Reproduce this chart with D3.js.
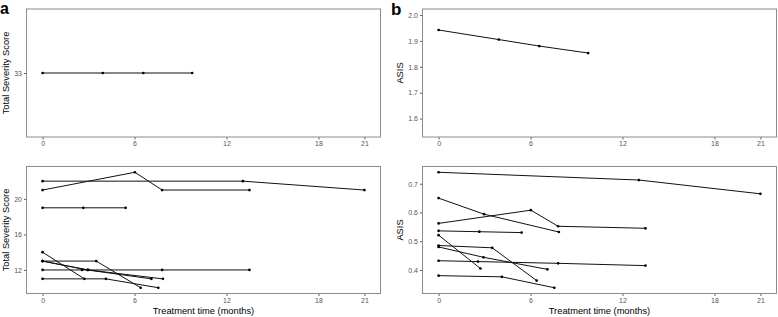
<!DOCTYPE html>
<html>
<head>
<meta charset="utf-8">
<script src="https://cdn.jsdelivr.net/npm/d3@7"></script>
<style>
  body { margin: 0; background: #fff; }
  svg { display: block; font-family: 'Liberation Sans', Arial, sans-serif; }
</style>
</head>
<body>
<div id="chart"></div>
<script>
// patient shown alone in the upper panels
const monthsTop = [0, 3.93, 6.57, 9.76]
const severityTop = [33, 33, 33, 33]
const asisTop = [1.942, 1.905, 1.880, 1.853]

// remaining patients (lower panels)
const months = [
  [0, 13.07, 21],
  [0, 6.02, 7.8, 13.5],
  [0, 2.66, 5.42],
  [0, 2.73],
  [0, 3.5, 6.4],
  [0, 2.93, 7.1],
  [0, 2.57, 7.8, 13.5],
  [0, 4.13, 7.55],
  [0, 2.97, 7.85]
]
const severity = [
  [22, 22, 21],
  [21, 23, 21, 21],
  [19, 19, 19],
  [14, 11],
  [13, 13, 10],
  [13, 12, 11],
  [12, 12, 12, 12],
  [11, 11, 10],
  [13, 12, 11]
]
const asis = [
  [0.740, 0.713, 0.665],
  [0.562, 0.608, 0.552, 0.545],
  [0.536, 0.533, 0.530],
  [0.521, 0.405],
  [0.485, 0.477, 0.363],
  [0.480, 0.444, 0.402],
  [0.432, 0.429, 0.423, 0.415],
  [0.380, 0.376, 0.338],
  [0.650, 0.594, 0.532]
]

const monthTicks = [0, 6, 12, 18, 21]
const severityTopTicks = [33]
const severityTicks = [12, 16, 20]
const asisTopTicks = [1.6, 1.7, 1.8, 1.9, 2.0]
const asisTicks = [0.4, 0.5, 0.6, 0.7]

const width = 778, height = 317
const svg = d3.select('#chart').append('svg')
  .attr('width', width)
  .attr('height', height)

// ggplot style 5% expansion
const expand = ext => {
  const pad = (ext[1] - ext[0]) * 0.05
  return [ext[0] - pad, ext[1] + pad]
}

const cols = {a: [26.5, 380.5], b: [422.5, 776.5]}
const rows = {top: [9, 137], bottom: [166.5, 293.5]}

const xDomain = expand([0, 21])

function drawPanel(col, row, series, yDomain, yTicks, yFmt, yTitle, showXTitle) {
  const x = d3.scaleLinear().domain(xDomain).range(cols[col])
  const y = d3.scaleLinear().domain(yDomain).range([rows[row][1], rows[row][0]])
  const g = svg.append('g')

  const xAxis = g.append('g')
    .attr('transform', `translate(0, ${rows[row][1]})`)
    .call(d3.axisBottom(x).tickValues(monthTicks).tickSize(2.5).tickPadding(2))
  const yAxis = g.append('g')
    .attr('transform', `translate(${cols[col][0]}, 0)`)
    .call(d3.axisLeft(y).tickValues(yTicks).tickFormat(yFmt).tickSize(2.5).tickPadding(2))
  ;[xAxis, yAxis].forEach(ax => {
    ax.select('.domain').remove()
    ax.selectAll('line').attr('stroke', '#333').attr('stroke-width', 0.8)
    ax.selectAll('text').attr('fill', '#555').style('font-size', '7px')
      .style('font-family', "'Liberation Sans', Arial, sans-serif")
  })

  g.append('rect')
    .attr('x', cols[col][0])
    .attr('y', rows[row][0])
    .attr('width', cols[col][1] - cols[col][0])
    .attr('height', rows[row][1] - rows[row][0])
    .attr('fill', 'none')
    .attr('stroke', '#8c8c8c')
    .attr('stroke-width', 1)

  const line = d3.line().x(d => x(d[0])).y(d => y(d[1]))
  series.forEach(s => {
    g.append('path')
      .attr('d', line(s))
      .attr('fill', 'none')
      .attr('stroke', '#111')
      .attr('stroke-width', 1)
    g.selectAll(null).data(s).enter().append('circle')
      .attr('cx', d => x(d[0]))
      .attr('cy', d => y(d[1]))
      .attr('r', 1.35)
      .attr('fill', '#000')
  })

  const tx = col == 'a' ? 5.5 : 400
  const ty = (rows[row][0] + rows[row][1]) / 2
  g.append('text')
    .attr('transform', `translate(${tx}, ${ty}) rotate(-90)`)
    .attr('text-anchor', 'middle')
    .attr('dy', '0.35em')
    .style('font-size', '9.3px')
    .attr('fill', '#000')
    .text(yTitle)

  if (showXTitle) {
    g.append('text')
      .attr('x', (cols[col][0] + cols[col][1]) / 2)
      .attr('y', 314)
      .attr('text-anchor', 'middle')
      .style('font-size', '9.3px')
      .attr('fill', '#000')
      .text('Treatment time (months)')
  }
}

const zip = (xs, ys) => xs.map((v, i) => [v, ys[i]])

const sevSeries = months.map((m, i) => zip(m, severity[i]))
const asisSeries = months.map((m, i) => zip(m, asis[i]))

drawPanel('a', 'top', [zip(monthsTop, severityTop)], [32.5, 33.5], severityTopTicks,
  d3.format('d'), 'Total Severity Score', false)
drawPanel('a', 'bottom', sevSeries, expand(d3.extent(severity.flat())), severityTicks,
  d3.format('d'), 'Total Severity Score', true)
drawPanel('b', 'top', [zip(monthsTop, asisTop)], [1.529, 2.023], asisTopTicks,
  d3.format('.1f'), 'ASIS', false)
drawPanel('b', 'bottom', asisSeries, expand(d3.extent(asis.flat())), asisTicks,
  d3.format('.1f'), 'ASIS', true)

// panel letters
svg.append('text').attr('x', 0).attr('y', 14)
  .style('font-size', '16px').style('font-weight', 'bold').text('a')
svg.append('text').attr('x', 391).attr('y', 15)
  .style('font-size', '17px').style('font-weight', 'bold').text('b')
</script>
</body>
</html>
